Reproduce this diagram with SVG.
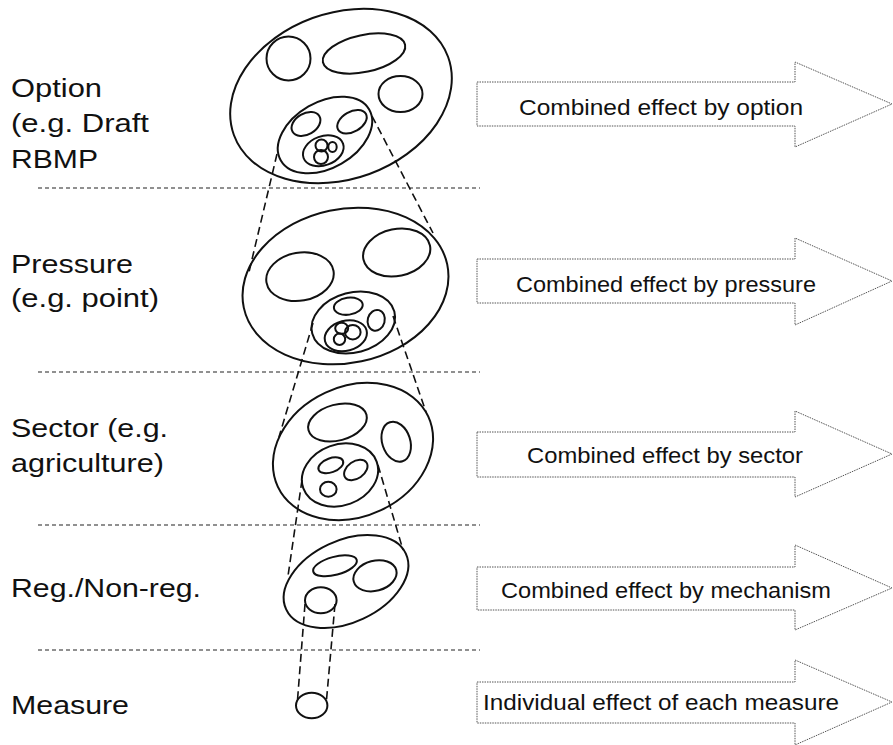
<svg xmlns="http://www.w3.org/2000/svg" width="893" height="745" viewBox="0 0 893 745">
<style>
.e{fill:none;stroke:#111;stroke-width:2}
.sep{stroke:#222;stroke-width:1.2;stroke-dasharray:4 3}
.con{stroke:#111;stroke-width:1.6;stroke-dasharray:8 4.5;fill:none}
.arr{fill:#fff;stroke:#555;stroke-width:1;stroke-dasharray:1.5 1}
.lbl{font-family:"Liberation Sans",Arial,sans-serif;font-size:25.5px;fill:#111}
.at{font-family:"Liberation Sans",Arial,sans-serif;font-size:22px;fill:#111}
</style>
<rect width="893" height="745" fill="#fff"/>
<g id="separators">
<line class="sep" x1="38" y1="188" x2="480" y2="188"/>
<line class="sep" x1="38" y1="372" x2="480" y2="372"/>
<line class="sep" x1="38" y1="525" x2="480" y2="525"/>
<line class="sep" x1="38" y1="650" x2="480" y2="650"/>
</g>
<g id="labels">
<text class="lbl" x="11" y="97" textLength="91" lengthAdjust="spacingAndGlyphs">Option</text>
<text class="lbl" x="11" y="132" textLength="138" lengthAdjust="spacingAndGlyphs">(e.g. Draft</text>
<text class="lbl" x="11" y="168" textLength="87" lengthAdjust="spacingAndGlyphs">RBMP</text>
<text class="lbl" x="11" y="273" textLength="122" lengthAdjust="spacingAndGlyphs">Pressure</text>
<text class="lbl" x="11" y="307" textLength="148" lengthAdjust="spacingAndGlyphs">(e.g. point)</text>
<text class="lbl" x="11" y="437" textLength="157" lengthAdjust="spacingAndGlyphs">Sector (e.g.</text>
<text class="lbl" x="11" y="472" textLength="153" lengthAdjust="spacingAndGlyphs">agriculture)</text>
<text class="lbl" x="11" y="597" textLength="190" lengthAdjust="spacingAndGlyphs">Reg./Non-reg.</text>
<text class="lbl" x="11" y="714" textLength="118" lengthAdjust="spacingAndGlyphs">Measure</text>
</g>
<g id="node-option">
<ellipse class="e" cx="341" cy="96" rx="114" ry="83" transform="rotate(-20 341 96)"/>
<ellipse class="e" cx="288.5" cy="58.5" rx="22" ry="22"/>
<ellipse class="e" cx="364" cy="53.5" rx="42" ry="18.5" transform="rotate(-12 364 53.5)"/>
<ellipse class="e" cx="400.5" cy="94" rx="22" ry="18"/>
<ellipse class="e" cx="325" cy="135" rx="51" ry="33" transform="rotate(-30 325 135)"/>
<ellipse class="e" cx="306" cy="124" rx="15.5" ry="10.5" transform="rotate(-30 306 124)"/>
<ellipse class="e" cx="352" cy="121.7" rx="16" ry="10" transform="rotate(-30 352 121.7)"/>
<ellipse class="e" cx="323.3" cy="150.8" rx="21" ry="14.5" transform="rotate(-20 323.3 150.8)"/>
<circle class="e" cx="321.5" cy="145.5" r="6"/>
<circle class="e" cx="321" cy="157" r="7"/>
<ellipse class="e" cx="332.5" cy="147" rx="4.2" ry="5"/>
</g>
<g id="node-pressure">
<ellipse class="e" cx="345.5" cy="286" rx="104" ry="77" transform="rotate(-12 345.5 286)"/>
<ellipse class="e" cx="300" cy="276.7" rx="34" ry="24" transform="rotate(-10 300 276.7)"/>
<ellipse class="e" cx="396.7" cy="252.5" rx="34" ry="23.5" transform="rotate(-12 396.7 252.5)"/>
<ellipse class="e" cx="353.3" cy="322.5" rx="42.5" ry="30" transform="rotate(-15 353.3 322.5)"/>
<ellipse class="e" cx="348.3" cy="306.2" rx="14.5" ry="8.5" transform="rotate(-8 348.3 306.2)"/>
<ellipse class="e" cx="376.2" cy="320.3" rx="8.5" ry="10.5" transform="rotate(15 376.2 320.3)"/>
<ellipse class="e" cx="345.8" cy="335.8" rx="21.5" ry="15" transform="rotate(-15 345.8 335.8)"/>
<ellipse class="e" cx="341.7" cy="328.3" rx="6.5" ry="5.5"/>
<ellipse class="e" cx="352.8" cy="332.2" rx="7.8" ry="7.2"/>
<circle class="e" cx="339.5" cy="339.2" r="5.7"/>
</g>
<g id="node-sector">
<ellipse class="e" cx="353" cy="451.5" rx="83" ry="65" transform="rotate(-25 353 451.5)"/>
<ellipse class="e" cx="337.5" cy="422.5" rx="30" ry="18" transform="rotate(-15 337.5 422.5)"/>
<ellipse class="e" cx="396.2" cy="441.7" rx="14" ry="20.5" transform="rotate(-18 396.2 441.7)"/>
<ellipse class="e" cx="340" cy="475" rx="39" ry="30.5" transform="rotate(-20 340 475)"/>
<ellipse class="e" cx="330.8" cy="465.3" rx="13" ry="7" transform="rotate(-20 330.8 465.3)"/>
<ellipse class="e" cx="355.8" cy="470" rx="13" ry="8.5" transform="rotate(-35 355.8 470)"/>
<ellipse class="e" cx="328.3" cy="489.2" rx="8.3" ry="7.5"/>
</g>
<g id="node-mechanism">
<ellipse class="e" cx="346" cy="581.5" rx="66" ry="41" transform="rotate(-25 346 581.5)"/>
<ellipse class="e" cx="335" cy="565.8" rx="22.5" ry="9" transform="rotate(-15 335 565.8)"/>
<ellipse class="e" cx="375" cy="575.8" rx="22" ry="15" transform="rotate(-15 375 575.8)"/>
<ellipse class="e" cx="320.8" cy="600.3" rx="15.8" ry="13"/>
</g>
<g id="node-measure">
<ellipse class="e" cx="311.7" cy="705.5" rx="15.7" ry="12.8"/>
</g>
<g id="connectors">
<line class="con" x1="277" y1="154" x2="249" y2="272"/>
<line class="con" x1="372" y1="116" x2="433" y2="233"/>
<line class="con" x1="313" y1="323" x2="279" y2="437"/>
<line class="con" x1="393" y1="316" x2="426" y2="412"/>
<line class="con" x1="302" y1="480" x2="288" y2="576"/>
<line class="con" x1="378" y1="465" x2="403" y2="550"/>
<line class="con" x1="305" y1="604" x2="297.5" y2="700"/>
<line class="con" x1="335" y1="604" x2="326.5" y2="700"/>
</g>
<g id="arrow-option">
<path class="arr" d="M477,82 H795 V62 L892,104 L795,147 V126 H477 Z"/>
<text class="at" x="519" y="115" textLength="284" lengthAdjust="spacingAndGlyphs">Combined effect by option</text>
</g>
<g id="arrow-pressure">
<path class="arr" d="M477,259 H795 V238 L892,281 L795,325 V303 H477 Z"/>
<text class="at" x="516" y="292" textLength="300" lengthAdjust="spacingAndGlyphs">Combined effect by pressure</text>
</g>
<g id="arrow-sector">
<path class="arr" d="M477,432 H795 V411 L892,454 L795,497 V477 H477 Z"/>
<text class="at" x="527" y="463" textLength="276" lengthAdjust="spacingAndGlyphs">Combined effect by sector</text>
</g>
<g id="arrow-mechanism">
<path class="arr" d="M477,567 H795 V545 L892,588 L795,630 V610 H477 Z"/>
<text class="at" x="501" y="598" textLength="330" lengthAdjust="spacingAndGlyphs">Combined effect by mechanism</text>
</g>
<g id="arrow-measure">
<path class="arr" d="M477,682 H795 V660 L892,702 L795,745 V723 H477 Z"/>
<text class="at" x="483" y="710" textLength="356" lengthAdjust="spacingAndGlyphs">Individual effect of each measure</text>
</g>
</svg>
